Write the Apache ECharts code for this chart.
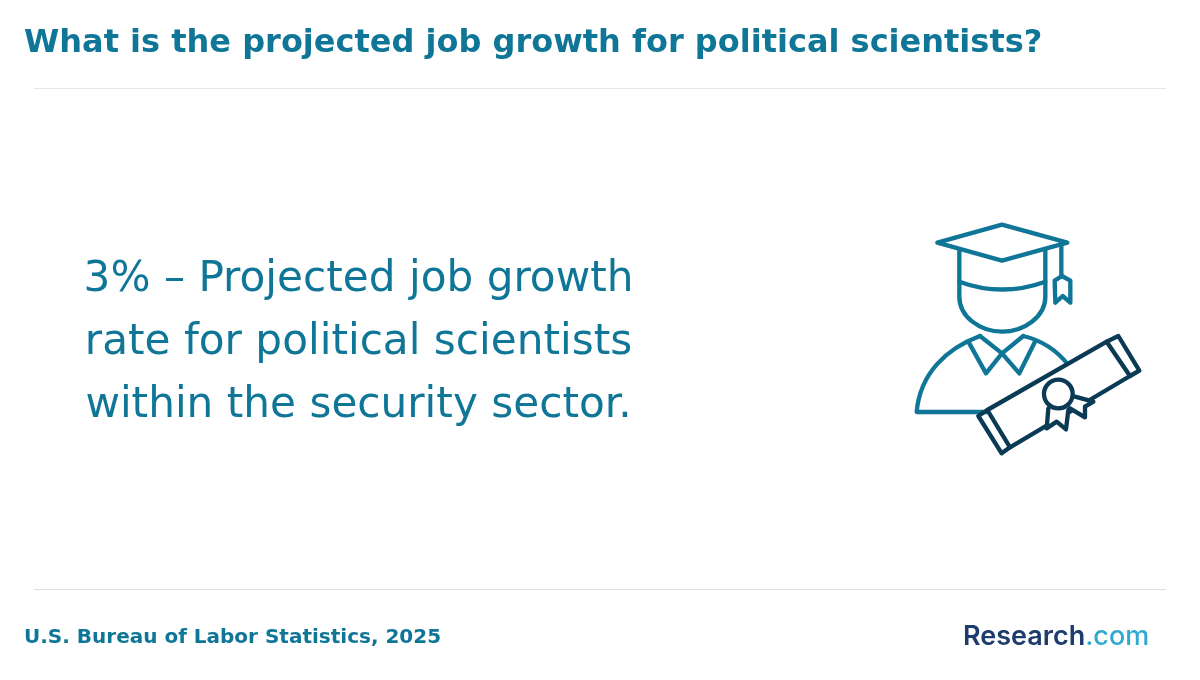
<!DOCTYPE html>
<html>
<head>
<meta charset="utf-8">
<style>html,body{margin:0;padding:0;background:#fff}#c{width:1200px;height:680px}</style>
<script src="https://cdn.jsdelivr.net/npm/echarts@6/dist/echarts.min.js"></script>
</head>
<body>
<div id="c"></div>
<script>
const titleText = "What is the projected job growth for political scientists?";
const statLines = ["3% – Projected job growth", "rate for political scientists", "within the security sector."];
const sourceText = "U.S. Bureau of Labor Statistics, 2025";
const logoMain = "Research";
const logoEnd = ".com";

const teal = "#0f7698";
const navy = "#0b3a55";
const iconStroke = { fill: "none", lineWidth: 13, lineJoin: "round", lineCap: "round" };
const tealPaths = [
  "M112 98 L306 44 L502 98 L306 152 Z",
  "M178 118 L178 215 Q306 262 436 215 L436 118",
  "M178 215 L178 260 C178 320 240 365 306 365 C372 365 436 320 436 260 L436 215",
  "M484 100 L484 200",
  "M464 212 L486 198 L511 212 L511 278 L488 258 L466 278 Z",
  "M270 606 L50 606 C60 490 140 415 240 378",
  "M370 378 C420 390 470 420 505 465",
  "M205 395 L258 490 L306 430 L358 490 L405 395",
  "M240 378 L306 430 L370 378"
];

const chart = echarts.init(document.getElementById("c"), null, { renderer: "canvas" });
const teals = tealPaths.map(d => ({
  type: "path", shape: { pathData: d },
  style: Object.assign({}, iconStroke, { stroke: teal })
}));
const n = (d, fill) => ({
  type: "path", shape: { pathData: d },
  style: Object.assign({}, iconStroke, { stroke: navy, fill: fill || "none" })
});
const icon = teals.concat([
  n("M262 600 L620 395 L690 498 L330 712 Z", "#ffffff"),
  n("M262 600 L235 618 L305 730 L330 712"),
  n("M620 395 L655 378 L718 482 L690 498"),
  n("M445 595 L440 655 L470 635 L498 658 L505 600", "#ffffff"),
  n("M525 560 L580 575 L555 590 L555 622 L510 595", "#ffffff"),
  { type: "circle", shape: { cx: 475, cy: 552, r: 43 },
    style: Object.assign({}, iconStroke, { stroke: navy, fill: "#ffffff" }) }
]);

chart.setOption({
  animation: false,
  backgroundColor: "#ffffff",
  title: {
    text: titleText, left: 24, top: 28, padding: 0,
    textStyle: { fontFamily: "DejaVu Sans", fontWeight: "bold", fontSize: 32, color: teal }
  },
  series: [{
    type: "custom", coordinateSystem: "none", silent: true, data: [[0]],
    renderItem: () => ({ type: "group", x: 900, y: 210, scaleX: 1/3, scaleY: 1/3, children: icon })
  }],
  graphic: [
    { type: "line", shape: { x1: 34, y1: 88.5, x2: 1166, y2: 88.5 }, style: { stroke: "#e6e6e6", lineWidth: 1 } },
    { type: "line", shape: { x1: 34, y1: 589.5, x2: 1166, y2: 589.5 }, style: { stroke: "#e0e0e0", lineWidth: 1 } },
    ...statLines.map((t, i) => ({
      type: "text", x: 358.5, y: 280 + i * 63,
      style: { text: t, fontFamily: "DejaVu Sans", fontSize: 42.2, fill: teal, align: "center", verticalAlign: "middle" }
    })),
    { type: "text", x: 24, y: 638,
      style: { text: sourceText, fontFamily: "DejaVu Sans", fontWeight: "bold", fontSize: 20, fill: teal, align: "left", verticalAlign: "middle" } },
    { type: "text", x: 963, y: 637,
      style: {
        text: "{a|" + logoMain + "}{b|" + logoEnd + "}",
        align: "left", verticalAlign: "middle",
        rich: {
          a: { fontFamily: "Inter", fontWeight: 600, fontSize: 27, fill: "#1d3b6f" },
          b: { fontFamily: "Inter", fontWeight: 500, fontSize: 27, fill: "#2fa8d2" }
        }
      } }
  ]
});
</script>
</body>
</html>
